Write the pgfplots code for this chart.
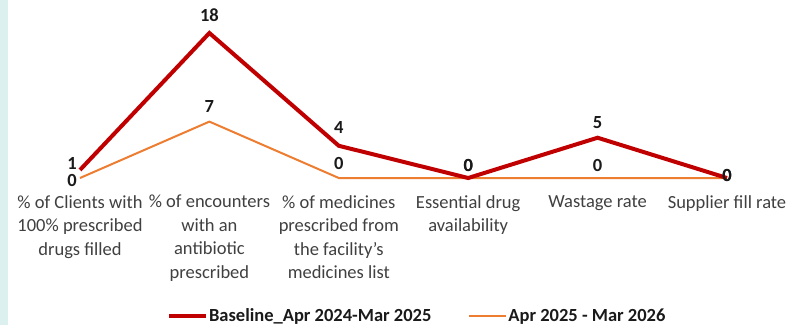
\documentclass[border=0pt]{standalone}
\usepackage{pgfplots}
\pgfplotsset{compat=1.18}
\usepackage{pgfplotstable}
\usepackage{fontspec}
\setmainfont{Carlito}
\definecolor{basered}{HTML}{C00000}
\definecolor{neworange}{HTML}{ED7D31}
\definecolor{strip}{HTML}{DDF0F0}
\definecolor{lbl}{HTML}{404040}
\definecolor{dark}{HTML}{1A1A1A}

\pgfplotstableread{
x y dx dy
0 1 -8 6
1 18 0 18
2 4 0 18
3 0 0 13
4 5 0 15
5 0 0 3
}\baseline

\pgfplotstableread{
x y dx dy
0 0 -8 -2
1 7 0 15
2 0 0 15
3 0 0 13
4 0 0 13
5 0 0 3
}\current

\begin{document}
\begin{tikzpicture}
\fill[white] (0,0) rectangle (788pt,325pt);
\fill[strip] (0,0) rectangle (8pt,325pt);
\begin{axis}[
  at={(80pt,147pt)}, anchor=south west,
  scale only axis, width=647pt, height=145pt,
  xmin=0, xmax=5, ymin=0, ymax=18,
  clip=false,
  axis line style={draw=none},
  tick style={draw=none},
  ytick=\empty,
  xtick={0,1,2,3,4,5},
  xticklabels={
    {\% of Clients with\\100\% prescribed\\drugs filled},
    {\% of encounters\\with an\\antibiotic\\prescribed},
    {\% of medicines\\prescribed from\\the facility’s\\medicines list},
    {Essential drug\\availability},
    {Wastage rate},
    {Supplier fill rate}},
  xticklabel style={align=center, anchor=north, inner sep=0pt, yshift=-17pt,
    font=\fontsize{18.5}{23.5}\selectfont, text=lbl},
  nodes near coords={\pgfplotspointmeta},
  point meta=explicit symbolic,
  visualization depends on={\thisrow{dx} \as \dx},
  visualization depends on={\thisrow{dy} \as \dy},
  nodes near coords style={anchor=center, inner sep=0pt, xshift=\dx pt, yshift=\dy pt,
    font=\fontsize{18.5}{22}\selectfont\bfseries, text=dark},
  legend columns=2,
  reverse legend,
  legend style={at={(axis description cs:0.5205,-0.952)}, anchor=center, draw=none, fill=none,
    font=\fontsize{18.5}{22}\selectfont\bfseries, text=dark,
    nodes={inner xsep=1pt},
    /tikz/every even column/.append style={column sep=36pt}},
  legend image code/.code={\draw[#1] (0pt,0pt) -- (37pt,0pt);},
]
\addplot[neworange, line width=2pt, mark=none] table[x=x, y=y, meta=y] {\current};
\addlegendentry{Apr 2025 - Mar 2026}
\addplot[basered, line width=4pt, mark=none, line join=miter] table[x=x, y=y, meta=y] {\baseline};
\addlegendentry{Baseline\_Apr 2024-Mar 2025}
\end{axis}
\pgfresetboundingbox
\path (0,0) rectangle (788pt,325pt);
\end{tikzpicture}
\end{document}
